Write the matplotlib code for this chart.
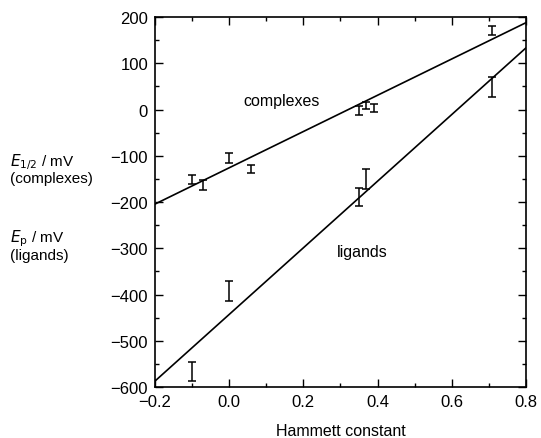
import numpy as np
import matplotlib.pyplot as plt

plt.rcParams['font.family'] = ['Liberation Sans', 'DejaVu Sans']

# complexes: E1/2 vs Hammett constant
cx_sigma = [-0.10, -0.07, 0.00, 0.06, 0.35, 0.37, 0.39, 0.71]
cx_e = [-152, -163, -105, -129, -2, 9, 3, 171]
cx_err = [10, 10, 10, 9, 10, 8, 9, 10]

# ligands: Ep vs Hammett constant
lg_sigma = [-0.10, 0.00, 0.35, 0.37, 0.71]
lg_e = [-566, -392, -189, -150, 49]
lg_err = [21, 22, 20, 21, 21]

# fitted lines (slope, intercept)
cx_fit = (392, -126)
lg_fit = (720, -443)

fig = plt.figure(figsize=(5.41, 4.39), dpi=100)
ax = fig.add_axes([0.2865, 0.116, 0.6855, 0.843])

xs = np.array([-0.2, 0.8])
ax.plot(xs, cx_fit[0] * xs + cx_fit[1], color='black', lw=1.2)
ax.plot(xs, lg_fit[0] * xs + lg_fit[1], color='black', lw=1.2)

ax.errorbar(cx_sigma, cx_e, yerr=cx_err, fmt='none', ecolor='black',
            elinewidth=1.1, capsize=3, capthick=1.1)
ax.errorbar(lg_sigma, lg_e, yerr=lg_err, fmt='none', ecolor='black',
            elinewidth=1.1, capsize=3, capthick=1.1)

ax.text(0.14, 20, 'complexes', fontsize=11.5, ha='center', va='center')
ax.text(0.36, -306, 'ligands', fontsize=11.5, ha='center', va='center')

ax.set_xlim(-0.2, 0.8)
ax.set_ylim(-600, 200)
ax.set_xticks(np.arange(-0.2, 0.81, 0.2))
ax.set_xticklabels(['\u22120.2', '0.0', '0.2', '0.4', '0.6', '0.8'])
ax.set_xticks(np.arange(-0.1, 0.8, 0.2), minor=True)
ax.set_yticks(np.arange(-600, 201, 100))
ax.set_yticks(np.arange(-550, 200, 100), minor=True)
ax.tick_params(which='both', direction='in', top=True, right=True,
               labelsize=12, width=1)
ax.tick_params(which='major', length=6, pad=5)
ax.tick_params(which='minor', length=3)
for s in ax.spines.values():
    s.set_linewidth(1.2)

ax.set_xlabel('Hammett constant', fontsize=11.5, labelpad=10)

fig.text(0.018, 0.615, '$E_{1/2}$ / mV\n(complexes)', fontsize=11,
         va='center', ha='left', linespacing=1.05)
fig.text(0.018, 0.44, '$E_\\mathrm{p}$ / mV\n(ligands)', fontsize=11,
         va='center', ha='left', linespacing=1.05)

plt.savefig('out.png', dpi=100)
